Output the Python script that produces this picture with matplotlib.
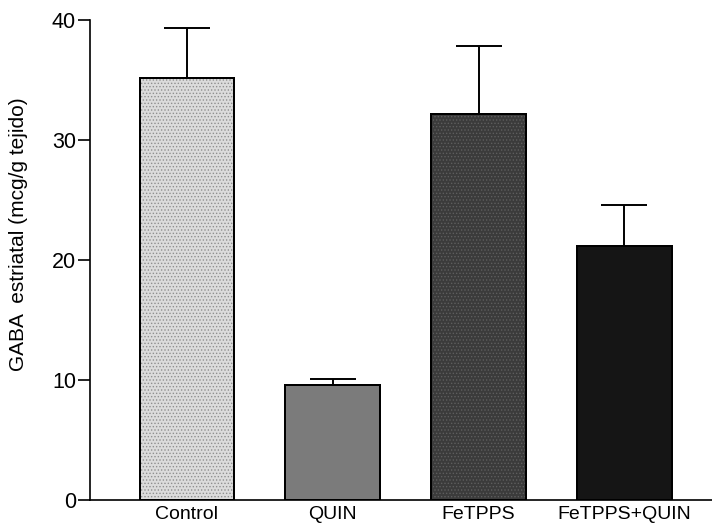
import numpy as np
import matplotlib.pyplot as plt

plt.rcParams['font.family'] = ['Liberation Sans', 'DejaVu Sans']
plt.rcParams['hatch.linewidth'] = 0.6

# data
grupos = ['Control', 'QUIN', 'FeTPPS', 'FeTPPS+QUIN']
gaba = [35.2, 9.6, 32.2, 21.2]
err_sup = [4.1, 0.5, 5.6, 3.4]

colores = ['#dcdcdc', '#7b7b7b', '#3b3b3b', '#151515']
hatch_col = ['#8f8f8f', '#6a6a6a', '#5e5e5e', '#151515']
hatches = ['.....', '', '.....', '']

x = np.arange(len(grupos))

fig = plt.figure(figsize=(7.12, 5.26), dpi=100)
ax = fig.add_axes([0.1264, 0.0494, 0.8736, 0.9126])

ax.bar(x, gaba, width=0.65, color=colores, edgecolor='black', linewidth=1.4, zorder=2)
# stipple texture
for i in range(len(grupos)):
    if hatches[i]:
        ax.bar(x[i], gaba[i], width=0.63, color='none', edgecolor=hatch_col[i],
               hatch=hatches[i], linewidth=0, zorder=3)
ax.bar(x, gaba, width=0.65, color='none', edgecolor='black', linewidth=1.4, zorder=4)

ax.errorbar(x, gaba, yerr=[np.zeros(len(gaba)), err_sup], fmt='none',
            ecolor='black', elinewidth=1.4, capsize=16.5, capthick=1.4, zorder=1)

ax.set_xlim(-0.665, 3.6)
ax.set_ylim(0, 40)
ax.set_yticks([0, 10, 20, 30, 40])
ax.set_xticks(x)
ax.set_xticklabels(grupos, fontsize=14)
ax.tick_params(axis='y', labelsize=15.5, length=9, width=1.2, direction='out', pad=1)
ax.tick_params(axis='x', length=0, pad=4)
ax.set_ylabel('GABA  estriatal (mcg/g tejido)', fontsize=15)
ax.yaxis.set_label_coords(-0.100, 0.554)

ax.spines['top'].set_visible(False)
ax.spines['right'].set_visible(False)
ax.spines['left'].set_linewidth(1.2)
ax.spines['bottom'].set_linewidth(1.2)

plt.savefig('out.png', dpi=100)
